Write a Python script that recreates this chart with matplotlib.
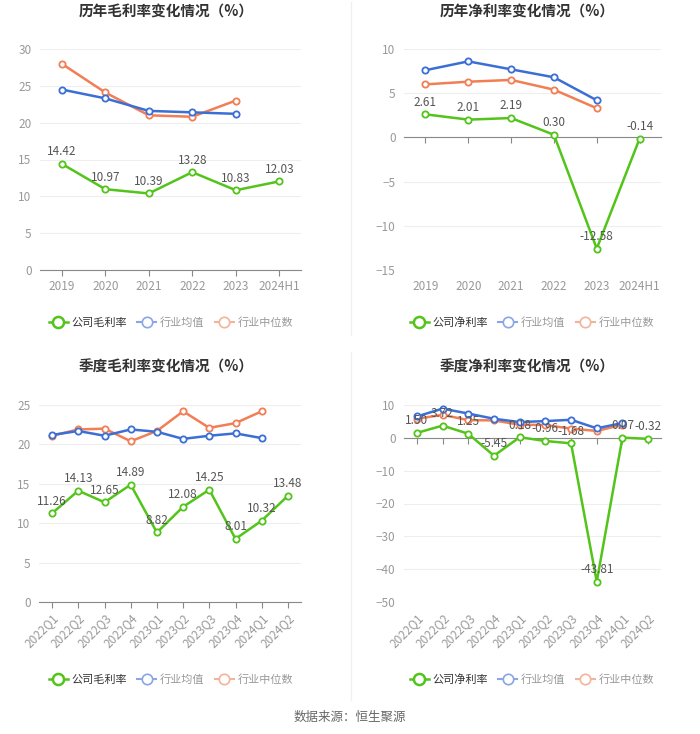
import matplotlib
matplotlib.use("Agg")
import matplotlib.pyplot as plt
from matplotlib.lines import Line2D

plt.rcParams['font.family'] = ['Noto Sans CJK SC', 'DejaVu Sans']

GREEN = '#52c41a'
BLUE = '#3b6fd6'
ORANGE = '#f27e55'

years = ['2019', '2020', '2021', '2022', '2023', '2024H1']
quarters = ['2022Q1', '2022Q2', '2022Q3', '2022Q4', '2023Q1', '2023Q2',
            '2023Q3', '2023Q4', '2024Q1', '2024Q2']

gross_year_company = [14.42, 10.97, 10.39, 13.28, 10.83, 12.03]
gross_year_avg = [24.5, 23.3, 21.6, 21.4, 21.2]
gross_year_median = [28.0, 24.1, 21.0, 20.8, 23.0]

net_year_company = [2.61, 2.01, 2.19, 0.30, -12.58, -0.14]
net_year_avg = [7.6, 8.6, 7.7, 6.8, 4.2]
net_year_median = [6.0, 6.3, 6.5, 5.4, 3.3]

gross_q_company = [11.26, 14.13, 12.65, 14.89, 8.82, 12.08, 14.25, 8.01, 10.32, 13.48]
gross_q_avg = [21.2, 21.7, 21.1, 21.9, 21.6, 20.7, 21.1, 21.4, 20.8]
gross_q_median = [21.1, 21.9, 22.0, 20.4, 21.7, 24.2, 22.1, 22.7, 24.2]

net_q_company = [1.50, 3.72, 1.25, -5.45, 0.18, -0.96, -1.68, -43.81, 0.07, -0.32]
net_q_avg = [6.5, 8.9, 7.4, 5.8, 4.8, 5.1, 5.5, 2.9, 4.5]
net_q_median = [5.8, 7.0, 5.4, 5.3, 4.0, 3.9, 2.8, 2.1, 4.0]

W, H = 700, 734
fig = plt.figure(figsize=(W / 100, H / 100), dpi=100)


def px_axes(left, top, right, bottom):
    return fig.add_axes([left / W, 1 - bottom / H, (right - left) / W, (bottom - top) / H])


def draw_panel(rect, title, title_xy, legend_xy, cats, comp, avg, med,
               ylim, yticks, comp_name, rotate):
    ax = px_axes(*rect)
    x = list(range(len(cats)))
    for vals, col, z in [(med, ORANGE, 2), (avg, BLUE, 3), (comp, GREEN, 4)]:
        ax.plot(x[:len(vals)], vals, color=col, lw=1.8, marker='o', ms=4.5,
                mfc='white', mec=col, mew=1.3, zorder=z, clip_on=False)
    for xi, v in zip(x, comp):
        ax.annotate(f'{v:.2f}', (xi, v), xytext=(0, 4), textcoords='offset points',
                    ha='center', va='bottom', fontsize=8.5, color='#555555', zorder=6)
    ax.set_xlim(-0.5, len(cats) - 0.5)
    ax.set_ylim(*ylim)
    ax.set_yticks(yticks)
    ax.grid(axis='y', color='#eeeeee', lw=0.8)
    ax.set_axisbelow(True)
    for s in ['top', 'right', 'left']:
        ax.spines[s].set_visible(False)
    ax.spines['bottom'].set_position(('data', 0))
    ax.spines['bottom'].set_color('#888888')
    ax.set_xticks(x)
    ax.tick_params(axis='x', length=4, color='#888888', labelbottom=False)
    ax.tick_params(axis='y', length=0, labelsize=8.5, labelcolor='#999999', pad=6)
    sec = ax.secondary_xaxis(0)
    sec.spines['bottom'].set_visible(False)
    if rotate:
        sec.set_xticks(x, cats, rotation=45, ha='right', rotation_mode='anchor')
    else:
        sec.set_xticks(x, cats)
    sec.tick_params(length=0, labelsize=8.5, labelcolor='#999999', pad=7)

    fig.text(title_xy[0] / W, 1 - title_xy[1] / H, title, ha='center', va='center',
             fontsize=10.5, fontweight='bold', color='#333333')

    handles = [
        Line2D([], [], color=GREEN, lw=1.8, marker='o', ms=8, mfc='white', mec=GREEN, mew=1.8),
        Line2D([], [], color='#8aa6e6', lw=1.5, marker='o', ms=7.5, mfc='white', mec='#8aa6e6', mew=1.2),
        Line2D([], [], color='#f4b39b', lw=1.5, marker='o', ms=7.5, mfc='white', mec='#f4b39b', mew=1.2),
    ]
    leg = fig.legend(handles, [comp_name, '行业均值', '行业中位数'], loc='center',
                     bbox_to_anchor=(legend_xy[0] / W, 1 - legend_xy[1] / H), ncol=3,
                     frameon=False, fontsize=8, handlelength=1.7, handletextpad=0.35,
                     columnspacing=0.9, borderpad=0)
    for t, c in zip(leg.get_texts(), ['#333333', '#999999', '#999999']):
        t.set_color(c)
    return ax


draw_panel((40, 49, 301, 270), '历年毛利率变化情况（%）', (166, 12), (171, 323),
           years, gross_year_company, gross_year_avg, gross_year_median,
           (0, 30), [0, 5, 10, 15, 20, 25, 30], '公司毛利率', False)
draw_panel((404, 49, 661, 270), '历年净利率变化情况（%）', (527, 12), (532, 323),
           years, net_year_company, net_year_avg, net_year_median,
           (-15, 10), [-15, -10, -5, 0, 5, 10], '公司净利率', False)
draw_panel((39, 405, 301, 602), '季度毛利率变化情况（%）', (166, 367), (171, 680),
           quarters, gross_q_company, gross_q_avg, gross_q_median,
           (0, 25), [0, 5, 10, 15, 20, 25], '公司毛利率', True)
draw_panel((404, 405, 661, 602), '季度净利率变化情况（%）', (527, 367), (532, 680),
           quarters, net_q_company, net_q_avg, net_q_median,
           (-50, 10), [-50, -40, -30, -20, -10, 0, 10], '公司净利率', True)

# faint panel dividers
fig.add_artist(Line2D([351 / W, 351 / W], [1 - 2 / H, 1 - 335 / H], color='#f0f0f0', lw=1))
fig.add_artist(Line2D([351 / W, 351 / W], [1 - 352 / H, 1 - 700 / H], color='#f0f0f0', lw=1))

fig.text(0.5, 1 - 717 / H, '数据来源：恒生聚源', ha='center', va='center',
         fontsize=9, color='#666666')

fig.savefig('out.png', dpi=100, facecolor='white')
